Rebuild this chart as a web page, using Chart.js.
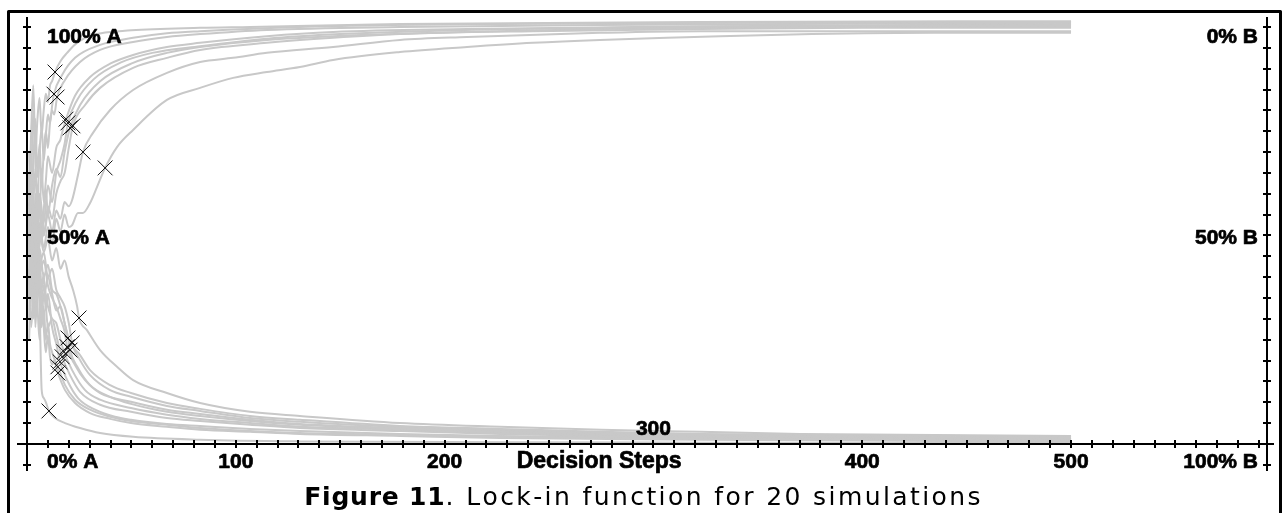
<!DOCTYPE html>
<html>
<head>
<meta charset="utf-8">
<script src="https://cdn.jsdelivr.net/npm/chart.js@4.4.1/dist/chart.umd.min.js"></script>
<style>
  html, body { margin: 0; padding: 0; background: #fff; }
  #wrap { position: relative; width: 1288px; height: 513px; overflow: hidden; }
  canvas { display: block; }
</style>
</head>
<body>
<div id="wrap"><canvas id="c" width="1288" height="513"></canvas></div>
<script>
// ---- data: [decision step, share of A in %] ----
const sim01 = [[1,60],[2,75],[3,86],[4,70],[5,78],[6,83],[7,74],[8,80],[9,84],[10,82],[11,86],[12,87],[13.4,89.2],[16,91.8],[19.2,93.8],[23.9,96.2],[31.6,98.1],[50,99.2],[82.9,99.8],[106.8,100],[178.6,100.7],[322.3,101.2],[500,101.4]];
const sim02 = [[1,45],[2,62],[3,80],[4,68],[5,58],[6,70],[7,76],[8,68],[9,74],[10,79],[11,77],[12,81],[12.9,83.9],[16.8,88.5],[23,92.6],[35,95.7],[50.8,97.4],[67,98.5],[82.9,99],[130.7,100],[226.5,100.7],[350,101],[500,101.2]];
const sim03 = [[1,55],[2,40],[3,66],[4,78],[5,64],[6,72],[7,62],[8,70],[9,75],[10,71],[11,77],[12,80],[13,79],[14.4,83.2],[18.2,87.3],[25.4,91.6],[35,94.5],[50.8,96.4],[67,97.6],[82.9,98.3],[114.9,99.3],[178.6,100],[274.4,100.5],[400,100.8],[500,101]];
const sim04 = [[1,50],[2,70],[3,58],[4,47],[5,62],[6,55],[7,66],[8,58],[9,63],[10,69],[12,65],[14,71],[16,73],[17,75],[18.7,77.9],[23,83.5],[30.2,88],[39.8,91.2],[50.8,93.3],[67,95.2],[82.9,96.2],[114.9,97.8],[146.6,98.8],[210.7,99.5],[322.3,100.2],[500,100.5]];
const sim05 = [[1,65],[2,48],[3,57],[4,66],[5,55],[6,60],[8,53],[10,62],[12,58],[14,65],[16,68],[18,72],[19.6,77],[24,82.5],[32,87.5],[45,91.5],[60,93.8],[82.9,95.4],[115,97.2],[150,98.3],[210,99.3],[280,99.8],[380,100.3],[500,100.7]];
const sim06 = [[1,35],[2,55],[3,45],[4,60],[5,52],[6,58],[7,48],[8,56],[9,61],[10,55],[12,62],[14,66],[16,64],[18,70],[20.6,75.8],[25.4,81.3],[35,87],[50.8,91.4],[67,93.8],[82.9,95.2],[114.9,96.9],[146.6,97.8],[210.7,98.8],[274.4,99.5],[370,100],[500,100.2]];
const sim07 = [[1,40],[2,58],[3,50],[4,42],[5,53],[6,47],[7,55],[8,50],[10,57],[12,54],[14,60],[16,63],[18,65],[20,71],[22,76.3],[27.8,81.3],[35,85.4],[50.8,90.2],[67,92.6],[82.9,94.5],[114.9,96.2],[146.6,97.4],[178.6,98.3],[242.3,99],[322.3,99.5],[400,99.8],[500,99.8]];
const sim08 = [[1,70],[2,52],[3,44],[4,55],[5,48],[6,57],[8,50],[10,55],[12,51],[14,56],[16,54],[18,58],[20,57],[21.6,58.5],[24.4,64.5],[26.8,70],[31.6,74.6],[39.8,80.1],[50.8,84.9],[67,89],[82.9,91.6],[98.7,92.6],[114.9,93.8],[146.6,95.2],[178.6,96.9],[210.7,97.6],[274.4,98.6],[322.3,99],[500,99]];
const sim09 = [[1,30],[2,48],[3,38],[4,50],[5,45],[6,53],[8,47],[10,52],[12,48],[14,54],[16,51],[18,55],[20,52],[21.6,52.5],[24.4,55.4],[26.8,55.4],[30.2,57.8],[33.5,61.6],[37.4,66.2],[43.1,71.2],[50.8,75.3],[67,82.5],[82.9,85.4],[98.7,87.8],[114.9,89.2],[130.7,90.4],[146.6,92.1],[178.6,94],[210.7,95.2],[242.3,96.2],[274.4,96.9],[306.5,97.4],[331.9,97.8],[376,98.3],[434.9,98.6],[500,98.6]];
const sim10 = [[1,45],[2,62],[3,50],[4,56],[5,45],[6,51],[8,46],[10,49],[12,44],[14,47],[16,42],[18,44],[20,40],[22,37],[24,33],[24.9,30.2],[28.7,27.3],[35,22.5],[43.1,18.5],[50.8,15.3],[67,12.2],[82.9,9.8],[106.8,7.7],[130.7,6.7],[178.6,5],[226.5,4.1],[274.9,3.4],[322.3,2.9],[370.2,2.4],[418.1,2.2],[500,1.9]];
const sim11 = [[1,65],[2,46],[3,55],[4,48],[5,40],[6,47],[8,40],[10,43],[12,37],[14,36],[16,33],[18,29],[19.6,25.4],[25.4,21.3],[30.2,17.7],[39.8,14.1],[49.8,12.2],[67,9.8],[82.9,8.4],[106.8,6.7],[130.7,5.8],[178.6,4.3],[226.5,3.6],[274.9,2.9],[322.3,2.4],[370.2,2.2],[500,1.7]];
const sim12 = [[1,58],[2,44],[3,32],[4,42],[5,48],[6,43],[8,46],[10,40],[12,42],[14,37],[16,35],[18,33],[20,29],[21.6,24.2],[25.4,20.1],[30.2,16.5],[39.8,12.9],[49.8,11.3],[67,9.1],[82.9,7.9],[106.8,6.2],[130.7,5.3],[178.6,4.1],[226.5,3.4],[274.9,2.6],[370.2,1.9],[500,1.4]];
const sim13 = [[1,25],[2,40],[3,52],[4,44],[5,50],[6,41],[8,44],[10,38],[12,35],[14,33],[16,30],[18,27],[19.2,23.3],[23,18.9],[27.8,15.3],[35,12.2],[49.8,10.1],[67,8.2],[82.9,7.2],[106.8,5.8],[130.7,4.8],[178.6,3.8],[226.5,3.1],[274.9,2.4],[370.2,1.8],[500,1.3]];
const sim14 = [[1,38],[2,53],[3,43],[4,36],[5,46],[6,40],[8,35],[10,40],[12,36],[14,32],[16,33],[18,29],[19.5,26],[20.6,22.5],[24.4,18.2],[30.2,14.1],[39.8,11.3],[49.8,9.6],[67,7.7],[82.9,6.7],[106.8,5.5],[130.7,4.6],[178.6,3.6],[226.5,2.9],[274.9,2.2],[370.2,1.7],[500,1.2]];
const sim15 = [[1,42],[2,28],[3,36],[4,45],[5,36],[6,42],[7,34],[8,38],[10,33],[12,30],[14,29],[16,25],[17.7,22.1],[21.6,17.7],[27.8,12.9],[35,10.6],[49.8,8.6],[67,7],[82.9,6],[106.8,5],[130.7,4.1],[178.6,3.4],[226.5,2.6],[274.9,2.2],[370.2,1.6],[500,1]];
const sim16 = [[1,55],[2,38],[3,48],[4,35],[5,44],[6,39],[7,30],[8,36],[9,33],[10,28],[12,30],[14,26],[15,24],[16.8,20.9],[20.6,16.5],[25.4,12.5],[35,9.4],[49.8,7.7],[67,6.2],[82.9,5.5],[106.8,4.6],[130.7,3.8],[178.6,3.1],[226.5,2.4],[274.9,1.9],[370.2,1.4],[500,0.8]];
const sim17 = [[1,35],[2,50],[3,38],[4,30],[5,42],[6,36],[7,28],[8,33],[9,25],[10,29],[11,24],[12,22],[13,20.5],[14.8,18.5],[18.2,14.1],[23,10.6],[30.2,8.2],[39.8,6.5],[49.8,5.5],[67,4.6],[82.9,3.8],[106.8,3.1],[130.7,2.6],[178.6,2.2],[226.5,1.7],[322.3,1.2],[500,0.7]];
const sim18 = [[1,60],[2,42],[3,30],[4,40],[5,33],[6,25],[7,35],[8,28],[9,22],[10,26],[11,21],[12,19],[13,20],[14.8,17],[18.2,12.9],[23,9.8],[30.2,7.4],[39.8,6],[49.8,5],[67,4.1],[82.9,3.4],[106.8,2.9],[130.7,2.4],[178.6,1.9],[226.5,1.4],[322.3,1],[500,0.6]];
const sim19 = [[1,48],[2,60],[3,42],[4,52],[5,40],[6,45],[7,37],[8,41],[9,32],[10,36],[12,28],[14,24],[15.8,19.7],[19.6,14.9],[24.4,11],[32.6,8.2],[42.1,6.5],[49.8,5.8],[67,4.8],[82.9,4.3],[106.8,3.6],[130.7,3.1],[178.6,2.4],[226.5,1.9],[322.3,1.4],[500,0.5]];
const sim20 = [[1,50],[2,35],[3,45],[4,28],[5,38],[6,33],[7,13],[8,11],[9,10],[10.5,7.9],[13.4,6.2],[18.2,5],[25.4,3.8],[35,2.6],[50.8,1.7],[82.9,1],[130.7,0.6],[226.5,0.4],[322.3,0.3],[500,0.2]];
const simulations = [sim01,sim02,sim03,sim04,sim05,sim06,sim07,sim08,sim09,sim10,sim11,sim12,sim13,sim14,sim15,sim16,sim17,sim18,sim19,sim20];

// lock-in points (marked with x)
const lockInStep  = [13.4,12.9,14.4,18.7,19.6,20.6,22,26.8,37.4,24.9,19.6,21.6,19.2,20.6,17.7,16.8,14.8,14.8,15.8,10.5];
const lockInShare = [89.2,83.9,83.2,77.9,77,75.8,76.3,70,66.2,30.2,25.4,24.2,23.3,22.5,22.1,20.9,18.5,17,19.7,7.9];

// axis texts
const xTickSteps  = [100, 200, 400, 500];
const xTickLabels = ['100', '200', '400', '500'];
const xRaisedTickStep = 300;
const xRaisedTickLabel = '300';
const xAxisTitle = 'Decision Steps';
const xAxisTitleStep = 274;
const labelShares = [100, 50, 0];
const leftLabels  = ['100% A', '50% A', '0% A'];
const rightLabels = ['0% B', '50% B', '100% B'];
const rightAxisStep = 594;
const captionBold = 'Figure 11';
const captionRest = '. Lock-in function for 20 simulations';

// ---- chart ----
const LINE = '#c8c8c8';
const datasets = [{
  type: 'scatter',
  label: 'lock-in',
  data: lockInStep.map((s, i) => ({ x: s, y: lockInShare[i] })),
  pointStyle: 'crossRot',
  pointRadius: 10.5,
  pointBorderColor: '#111',
  pointBorderWidth: 1,
  showLine: false
}];
simulations.forEach((sim, i) => {
  datasets.push({
    type: 'line',
    label: 'sim ' + (i + 1),
    data: sim.map(p => ({ x: p[0], y: p[1] })),
    borderColor: LINE,
    borderWidth: 2,
    pointRadius: 0,
    cubicInterpolationMode: 'monotone',
    fill: false
  });
});

function seg(ctx, x1, y1, x2, y2) {
  ctx.beginPath(); ctx.moveTo(x1, y1); ctx.lineTo(x2, y2); ctx.stroke();
}
function boldText(ctx, t, x, y) {
  ctx.strokeText(t, x, y);
  ctx.fillText(t, x, y);
}

const framePlugin = {
  id: 'frame',
  afterDatasetsDraw(chart) {
    const { ctx } = chart;
    const xs = chart.scales.x, ys = chart.scales.y;
    ctx.save();
    ctx.strokeStyle = '#000';
    ctx.lineWidth = 2;
    const y0 = Math.round(ys.getPixelForValue(0));
    const xl = Math.round(xs.getPixelForValue(0));
    const xr = Math.round(xs.getPixelForValue(rightAxisStep));
    // axes
    seg(ctx, xs.left, y0, xs.right, y0);
    seg(ctx, xl, ys.top, xl, ys.bottom);
    seg(ctx, xr, ys.top, xr, ys.bottom);
    // x ticks every 10 steps
    for (let s = 10; s < rightAxisStep; s += 10) {
      const px = Math.round(xs.getPixelForValue(s));
      seg(ctx, px, y0 - 4, px, y0 + 4);
    }
    // y ticks every 5 %
    for (let v = -5; v <= 100; v += 5) {
      if (v === 0) continue;
      const py = Math.round(ys.getPixelForValue(v));
      seg(ctx, xl - 4, py, xl + 4, py);
      seg(ctx, xr - 4, py, xr + 4, py);
    }
    // labels
    ctx.fillStyle = '#000';
    ctx.lineWidth = 0.7;
    ctx.lineJoin = 'round';
    ctx.font = 'bold 21px "Liberation Sans", Arial, sans-serif';
    ctx.textBaseline = 'alphabetic';
    const baseOff = { 100: 16, 50: 8.5, 0: 24 };
    labelShares.forEach((v, i) => {
      const py = ys.getPixelForValue(v) + baseOff[v];
      ctx.textAlign = 'left';
      boldText(ctx, leftLabels[i], xl + 20, py);
      ctx.textAlign = 'right';
      boldText(ctx, rightLabels[i], xr - 9, py);
    });
    ctx.textAlign = 'center';
    xTickSteps.forEach((s, i) => {
      boldText(ctx, xTickLabels[i], xs.getPixelForValue(s), y0 + 24);
    });
    boldText(ctx, xRaisedTickLabel, xs.getPixelForValue(xRaisedTickStep), y0 - 9);
    ctx.font = 'bold 23px "Liberation Sans", Arial, sans-serif';
    boldText(ctx, xAxisTitle, xs.getPixelForValue(xAxisTitleStep), y0 + 24);

    // caption (bold part tight, rest letter-spaced)
    const fb = 'bold 25px "DejaVu Sans", sans-serif';
    const fn = '25px "DejaVu Sans", sans-serif';
    const parts = [[captionBold, fb, 0.8], [captionRest, fn, 2.4]];
    let total = 0;
    parts.forEach(([t, f, sp]) => { ctx.font = f; for (const ch of t) total += ctx.measureText(ch).width + sp; });
    let cx = 643.5 - total / 2;
    ctx.textAlign = 'left';
    parts.forEach(([t, f, sp]) => {
      ctx.font = f;
      for (const ch of t) { ctx.fillText(ch, cx, 505); cx += ctx.measureText(ch).width + sp; }
    });

    // outer frame
    ctx.lineWidth = 3;
    ctx.strokeRect(8.5, 11.5, 1272, 600);
    ctx.restore();
  }
};

new Chart(document.getElementById('c'), {
  data: { datasets },
  options: {
    responsive: false,
    devicePixelRatio: 1,
    animation: false,
    layout: { padding: { left: 17, right: 14, top: 17, bottom: 42 } },
    plugins: { legend: { display: false }, tooltip: { enabled: false }, title: { display: false } },
    scales: {
      x: { type: 'linear', min: -4.8, max: 597.2, display: false },
      y: { type: 'linear', min: -6.5, max: 102.4, display: false }
    }
  },
  plugins: [framePlugin]
});
</script>
</body>
</html>
